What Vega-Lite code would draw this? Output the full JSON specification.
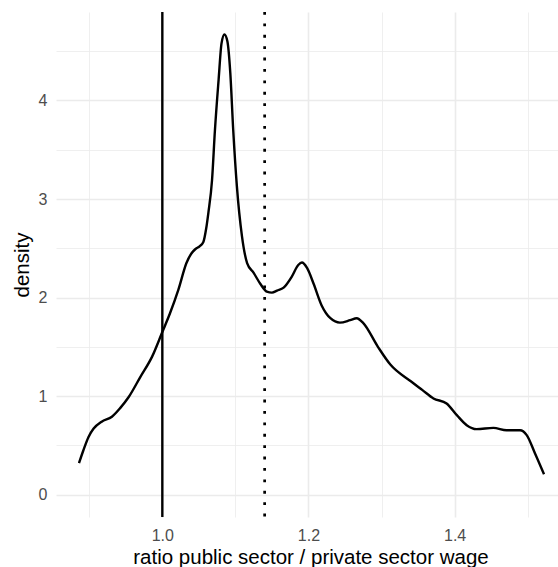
{
  "$schema": "https://vega.github.io/schema/vega-lite/v6.json",
  "autosize": {"type": "none"},
  "padding": {"left": 56, "top": 12, "right": 0, "bottom": 51},
  "width": 509,
  "height": 505,
  "background": "white",
  "config": {
    "view": {"stroke": null},
    "font": "Liberation Sans",
    "axis": {
      "domain": false,
      "ticks": false,
      "tickSize": 0,
      "gridColor": "#EBEBEB",
      "labelColor": "#4D4D4D",
      "labelFontSize": 16,
      "labelFont": "Liberation Sans",
      "titleFont": "Liberation Sans",
      "titleFontSize": 20.5,
      "titleFontWeight": "normal",
      "titleColor": "#000000"
    }
  },
  "layer": [
    {
      "data": {
        "values": [
          {"ratio": 0.886, "density": 0.32},
          {"ratio": 0.892, "density": 0.45},
          {"ratio": 0.899, "density": 0.585},
          {"ratio": 0.906, "density": 0.67},
          {"ratio": 0.917, "density": 0.74},
          {"ratio": 0.931, "density": 0.79},
          {"ratio": 0.942, "density": 0.875},
          {"ratio": 0.954, "density": 0.99},
          {"ratio": 0.970, "density": 1.195},
          {"ratio": 0.986, "density": 1.40},
          {"ratio": 1.000, "density": 1.65},
          {"ratio": 1.0105, "density": 1.84},
          {"ratio": 1.022, "density": 2.08},
          {"ratio": 1.033, "density": 2.35},
          {"ratio": 1.040, "density": 2.45},
          {"ratio": 1.045, "density": 2.49},
          {"ratio": 1.051, "density": 2.52},
          {"ratio": 1.056, "density": 2.56},
          {"ratio": 1.060, "density": 2.70},
          {"ratio": 1.063, "density": 2.86},
          {"ratio": 1.068, "density": 3.19},
          {"ratio": 1.072, "density": 3.70},
          {"ratio": 1.077, "density": 4.21},
          {"ratio": 1.081, "density": 4.58},
          {"ratio": 1.085, "density": 4.67},
          {"ratio": 1.089, "density": 4.60},
          {"ratio": 1.093, "density": 4.28},
          {"ratio": 1.097, "density": 3.70},
          {"ratio": 1.102, "density": 3.13},
          {"ratio": 1.109, "density": 2.62},
          {"ratio": 1.116, "density": 2.35},
          {"ratio": 1.125, "density": 2.25},
          {"ratio": 1.134, "density": 2.14},
          {"ratio": 1.143, "density": 2.06},
          {"ratio": 1.150, "density": 2.05},
          {"ratio": 1.157, "density": 2.07},
          {"ratio": 1.166, "density": 2.10},
          {"ratio": 1.177, "density": 2.21},
          {"ratio": 1.186, "density": 2.33},
          {"ratio": 1.191, "density": 2.355},
          {"ratio": 1.198, "density": 2.30},
          {"ratio": 1.207, "density": 2.14},
          {"ratio": 1.218, "density": 1.92},
          {"ratio": 1.230, "density": 1.79},
          {"ratio": 1.243, "density": 1.745},
          {"ratio": 1.257, "density": 1.77},
          {"ratio": 1.266, "density": 1.79},
          {"ratio": 1.275, "density": 1.74},
          {"ratio": 1.295, "density": 1.50},
          {"ratio": 1.312, "density": 1.32},
          {"ratio": 1.340, "density": 1.15},
          {"ratio": 1.356, "density": 1.06},
          {"ratio": 1.371, "density": 0.976},
          {"ratio": 1.389, "density": 0.925},
          {"ratio": 1.403, "density": 0.806},
          {"ratio": 1.4165, "density": 0.704},
          {"ratio": 1.430, "density": 0.664},
          {"ratio": 1.453, "density": 0.677},
          {"ratio": 1.471, "density": 0.653},
          {"ratio": 1.4895, "density": 0.653},
          {"ratio": 1.4986, "density": 0.603},
          {"ratio": 1.510, "density": 0.417},
          {"ratio": 1.5223, "density": 0.206}
        ]
      },
      "mark": {"type": "line", "color": "black", "strokeWidth": 2.4, "interpolate": "monotone", "clip": true},
      "encoding": {
        "x": {
          "field": "ratio",
          "type": "quantitative",
          "title": "ratio public sector / private sector wage",
          "scale": {"domain": [0.8545, 1.551], "nice": false, "zero": false},
          "axis": {
            "values": [0.9, 1.0, 1.1, 1.2, 1.3, 1.4, 1.5],
            "labelExpr": "round(datum.value * 10) % 2 == 0 ? format(datum.value, '.1f') : ''",
            "gridWidth": {"condition": {"test": "round(datum.value * 10) % 2 == 1", "value": 0.8}, "value": 1.6},
            "labelPadding": 10,
            "titlePadding": 4
          }
        },
        "y": {
          "field": "density",
          "type": "quantitative",
          "title": "density",
          "scale": {"domain": [-0.2276, 4.898], "nice": false, "zero": false},
          "axis": {
            "values": [0, 0.5, 1, 1.5, 2, 2.5, 3, 3.5, 4, 4.5],
            "labelExpr": "datum.value % 1 == 0 ? format(datum.value, 'd') : ''",
            "gridWidth": {"condition": {"test": "datum.value % 1 != 0", "value": 0.8}, "value": 1.6},
            "labelPadding": 9,
            "titlePadding": 6
          }
        }
      }
    },
    {
      "data": {"values": [{"ratio": 1.0}]},
      "mark": {"type": "rule", "color": "black", "strokeWidth": 2.4},
      "encoding": {"x": {"field": "ratio", "type": "quantitative"}}
    },
    {
      "data": {"values": [{"ratio": 1.14}]},
      "mark": {"type": "rule", "color": "black", "strokeWidth": 2.7, "strokeDash": [2.85, 8.55], "strokeCap": "butt"},
      "encoding": {"x": {"field": "ratio", "type": "quantitative"}}
    }
  ]
}
